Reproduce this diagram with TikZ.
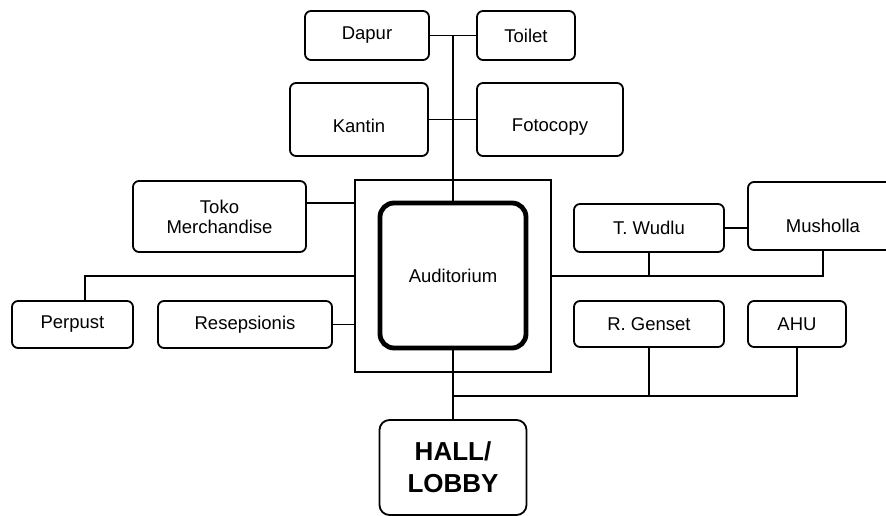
\documentclass[tikz,border=0pt]{standalone}
\usepackage{fontspec}
\setmainfont{Liberation Sans}
\usetikzlibrary{positioning}

\begin{document}
\begin{tikzpicture}[x=1pt, y=1pt, line width=1.8pt,
    room/.style={draw, rounded corners=6pt, inner sep=0pt, align=center,
      font=\fontsize{18.5}{20}\selectfont},
    core/.style={draw, line width=4.8pt, rounded corners=14pt, inner sep=0pt,
      minimum width=146pt, minimum height=145pt, font=\fontsize{18.5}{20}\selectfont},
    zone/.style={draw, line width=1.3pt, inner sep=0pt,
      minimum width=196pt, minimum height=192pt},
    hall/.style={room, rounded corners=10pt, font=\fontsize{26}{32}\selectfont\bfseries}]
\useasboundingbox (0,0) rectangle (886,516);
\clip (0,0) rectangle (886,516);

% ruang inti
\node [zone] (zona) at (453,240) {};
\node [core] (aud) at (453,240.5) {Auditorium};
\node [hall, minimum width=147pt, minimum height=95pt] (hall) at (453,48.5) {HALL/\\LOBBY};

% ruang atas
\node [room, minimum width=124pt, minimum height=49pt] (dapur) at (367,480.5) {Dapur};
\node [room, minimum width=98pt, minimum height=49pt] (toilet) at (526,480.5) {Toilet};
\node [room, minimum width=138pt, minimum height=73pt, text height=27pt] (kantin) at (359,396.5) {Kantin};
\node [room, minimum width=146pt, minimum height=73pt, text height=27pt] (fotocopy) at (550,396.5) {Fotocopy};

% ruang kiri
\node [room, minimum width=173pt, minimum height=71pt] (toko) at (219.5,299.5) {Toko\\Merchandise};
\node [room, minimum width=121pt, minimum height=47pt] (perpust) at (72.5,191.5) {Perpust};
\node [room, minimum width=174pt, minimum height=47pt] (resep) at (245,191.5) {Resepsionis};

% ruang kanan
\node [room, minimum width=150pt, minimum height=48pt] (wudlu) at (649,288) {T. Wudlu};
\node [room, minimum width=150pt, minimum height=68pt, text height=33pt] (musholla) at (823,300) {Musholla};
\node [room, minimum width=150pt, minimum height=46pt] (genset) at (649,192) {R. Genset};
\node [room, minimum width=98pt, minimum height=46pt] (ahu) at (797,192) {AHU};

\coordinate (atas) at (453,480.5);
\coordinate (tk) at (355,313);
\coordinate (pp) at (85,240);
\coordinate (ms) at (823,240);
\coordinate (bus) at (453,120);

\draw (dapur) -- (toilet);
\draw (kantin) -- (fotocopy);
\draw (atas) -- (aud.north);
\draw (aud.south) -- (hall.north);

\draw (toko.east |- tk) -- (tk);
\draw (zona.west) -- (pp) -- (pp |- perpust.north);
\draw (resep.east) -- (resep.east -| zona.west);

\draw (wudlu.east) -- (wudlu.east -| musholla.west);
\draw (zona.east) -- (ms) -- (ms |- musholla.south);
\draw (wudlu.south) -- (wudlu.south |- ms);

\draw (bus) -- (bus -| ahu) -- (ahu.south);
\draw (genset.south) -- (genset.south |- bus);
\end{tikzpicture}
\end{document}
